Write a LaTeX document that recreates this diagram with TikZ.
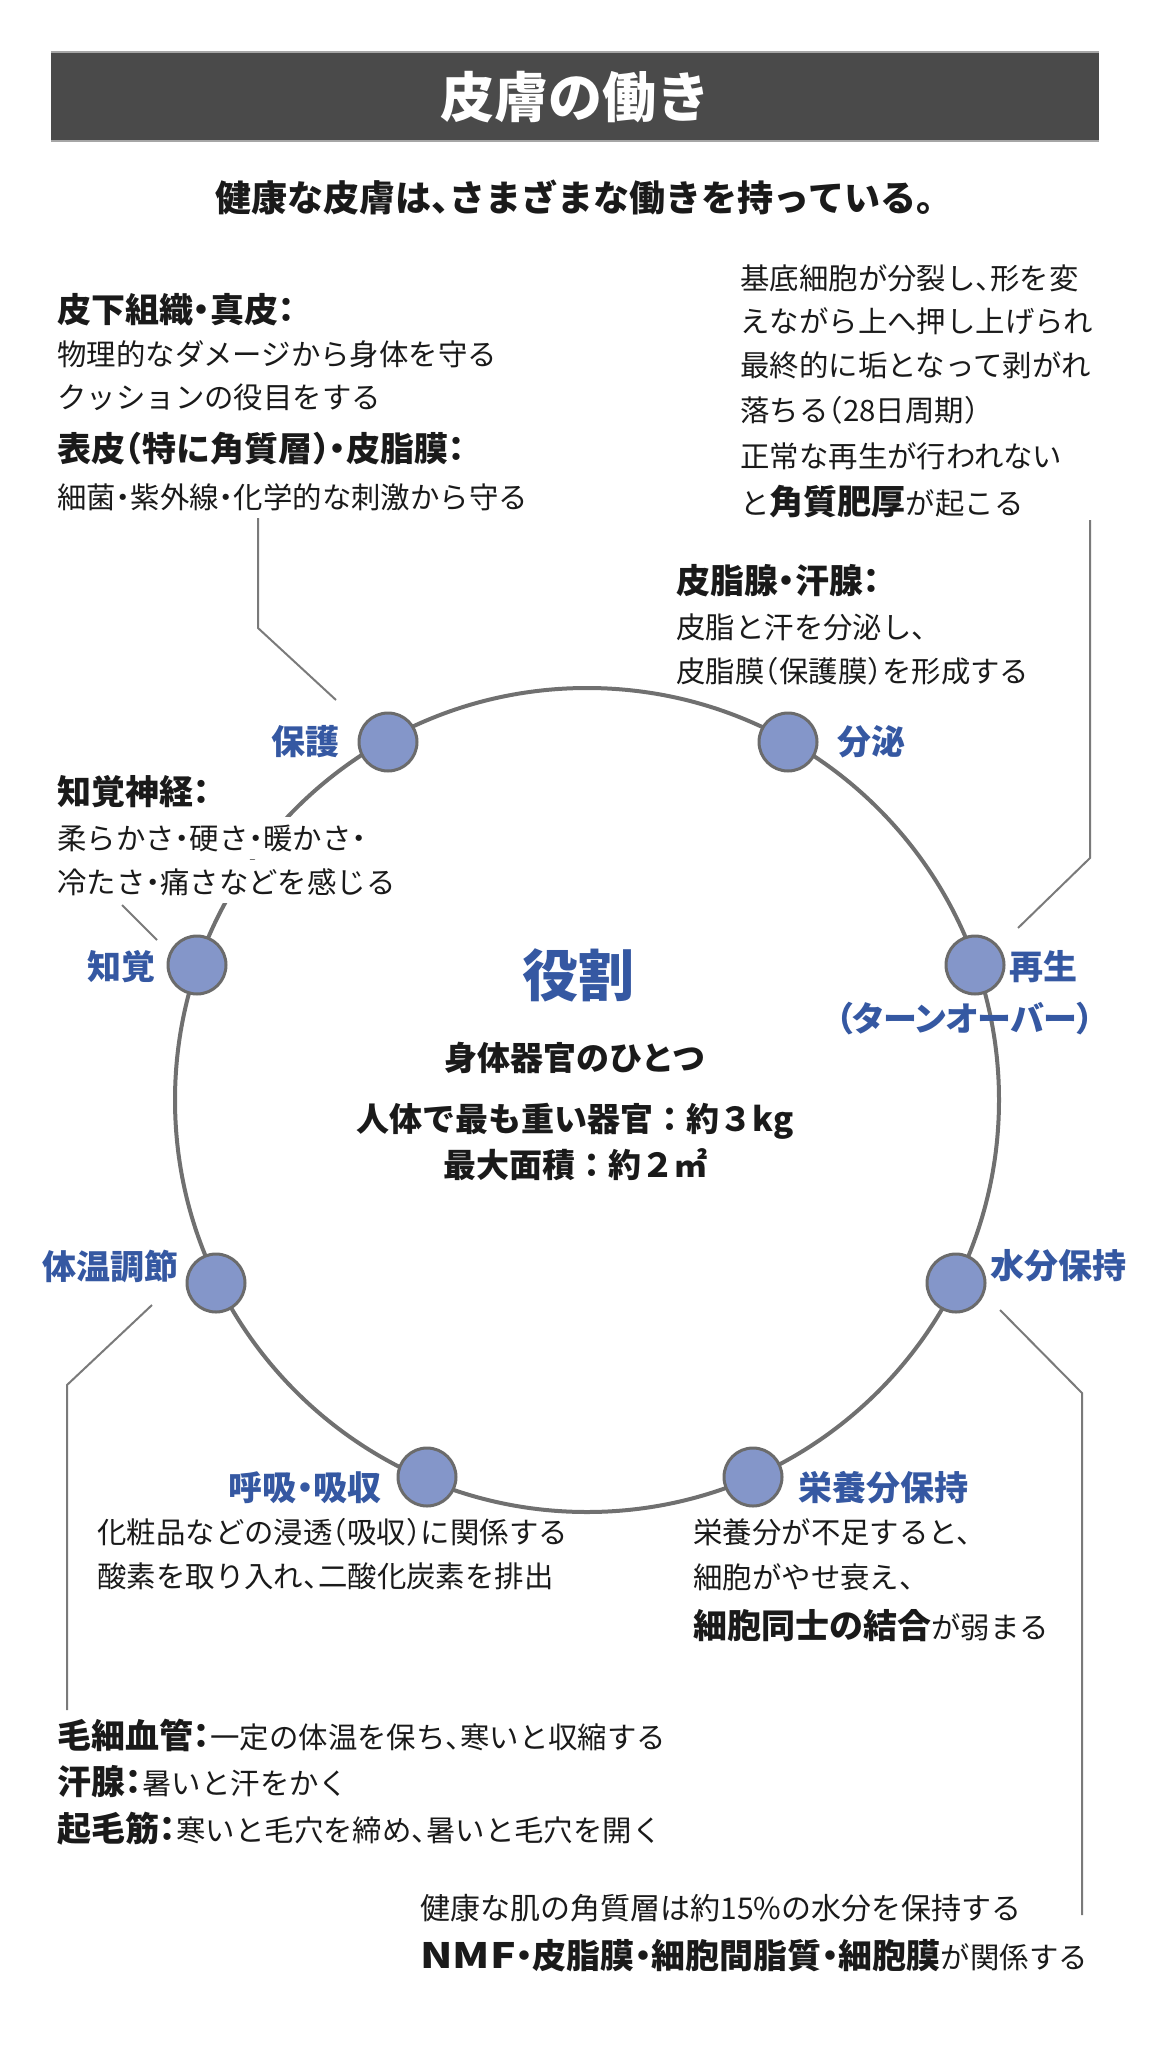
\documentclass[tikz,border=0pt]{standalone}
\usepackage{fontspec}
\usepackage{graphicx}
\setmainfont{Noto Sans CJK JP}[RawFeature={+halt}]
\newfontfamily\pfont{Noto Sans CJK JP}[RawFeature={+palt}]
\newfontfamily\ffont{Noto Sans CJK JP}
\definecolor{barc}{HTML}{4A4A4A}
\definecolor{bluec}{HTML}{3558A2}
\definecolor{dotc}{HTML}{8496C9}
\definecolor{dotb}{HTML}{6B6B6B}
\definecolor{ringc}{HTML}{707070}
\definecolor{linec}{HTML}{7A7A7A}
\definecolor{txtc}{HTML}{1A1A1A}
\newcommand\hlbold[1]{{\fontsize{17}{19}\selectfont\bfseries #1}}
\begin{document}
\begin{tikzpicture}[x=0.5pt,y=-0.5pt,
 dot/.style={circle, draw=dotb, fill=dotc, line width=1.5pt, minimum size=29pt, inner sep=0pt},
 ring/.style={draw=ringc, line width=2pt},
 conn/.style={draw=linec, line width=1pt},
 lbl/.style={text=bluec, font=\pfont\fontsize{17}{19}\selectfont\bfseries, inner sep=0pt},
 body/.style={anchor=base west, inner sep=0pt, text=txtc, font=\fontsize{14.7}{17}\selectfont},
 head/.style={anchor=base west, inner sep=0pt, text=txtc, font=\fontsize{17}{19}\selectfont\bfseries},
 mask/.style={fill=white, inner ysep=4pt, inner xsep=0pt},
 ctr/.style={text=txtc, font=\ffont\fontsize{16.5}{18}\selectfont\bfseries, inner sep=0pt, anchor=base},
]
\useasboundingbox (0,0) rectangle (1151,2048);
% title
\fill[barc] (51,52) rectangle (1099,141);
\draw[gray!70, line width=0.6pt] (51,52) -- (1099,52) (51,141) -- (1099,141);
\node[text=white, font=\fontsize{27}{30}\selectfont\bfseries, inner sep=0pt] (title) at (575,97) {皮膚の働き};
\node[text=txtc, font=\fontsize{18}{20}\selectfont\bfseries, inner sep=0pt] (sub) at (575,198) {健康な皮膚は、さまざまな働きを持っている。};

% ring
\coordinate (cen) at (587,1100);
\draw[ring] (cen) circle [radius=412];

% dots
\node[dot] (hogo) at (388,742) {};
\node[dot] (bunpi) at (788,742) {};
\node[dot] (chikaku) at (197,965) {};
\node[dot] (saisei) at (975,965) {};
\node[dot] (taion) at (216,1283) {};
\node[dot] (suibun) at (956,1283) {};
\node[dot] (kokyu) at (427,1477) {};
\node[dot] (eiyo) at (753,1477) {};

% blue labels
\node[lbl] (lhogo) at (305,742) {保護};
\node[lbl] (lbunpi) at (871,742) {分泌};
\node[lbl] (lchikaku) at (121,967) {知覚};
\node[lbl] (lsaisei) at (1043,967) {再生};
\node[lbl] (lturn) at (965,1019) {（ターンオーバー）};
\node[lbl] (ltaion) at (110,1266) {体温調節};
\node[lbl] (lsuibun) at (1058,1266) {水分保持};
\node[lbl] (lkokyu) at (305,1488) {呼吸・吸収};
\node[lbl] (leiyo) at (883,1488) {栄養分保持};

% center
\node[text=bluec, font=\fontsize{28}{30}\selectfont\bfseries, inner sep=0pt] (yakuwari) at (578,975) {役割};
\node[ctr] (c1) at (575,1070) {身体器官のひとつ};
\node[ctr] (c2) at (575,1131) {人体で最も重い器官：約３kg};
\node[ctr] (c3) at (575,1177) {最大面積：約２㎡};

% top-left block
\node[head] (tl1) at (57,323) {皮下組織・真皮：};
\node[body] (tl2) at (57,366) {物理的なダメージから身体を守る};
\node[body] (tl3) at (57,409) {クッションの役目をする};
\node[head] (tl4) at (57,462) {表皮（特に角質層）・皮脂膜：};
\node[body] (tl5) at (57,508) {細菌・紫外線・化学的な刺激から守る};

% top-right block
\node[body] (tr1) at (740,290) {基底細胞が分裂し、形を変};
\node[body] (tr2) at (740,333) {えながら上へ押し上げられ};
\node[body] (tr3) at (740,377) {最終的に垢となって剥がれ};
\node[body] (tr4) at (740,422) {落ちる（28日周期）};
\node[body] (tr5) at (740,467) {正常な再生が行われない};
\node[body] (tr6) at (740,514) {と\hlbold{角質肥厚}が起こる};

% sebaceous block
\node[head] (sb1) at (676,593) {皮脂腺・汗腺：};
\node[body] (sb2) at (676,638) {皮脂と汗を分泌し、};
\node[body] (sb3) at (676,682) {皮脂膜（保護膜）を形成する};

% sensory block
\node[head, mask] (sn1) at (57,804) {知覚神経：};
\node[body, mask] (sn2) at (57,849) {柔らかさ・硬さ・暖かさ・};
\node[body, mask] (sn3) at (57,893) {冷たさ・痛さなどを感じる};

% respiration block
\node[body] (rs1) at (97,1543) {化粧品などの浸透（吸収）に関係する};
\node[body] (rs2) at (97,1587) {酸素を取り入れ、二酸化炭素を排出};

% nutrition block
\node[body] (nt1) at (693,1543) {栄養分が不足すると、};
\node[body] (nt2) at (693,1588) {細胞がやせ衰え、};
\node[body] (nt3) at (693,1638) {\hlbold{細胞同士の結合}が弱まる};

% thermo block
\node[body] (th1) at (57,1748) {\hlbold{毛細血管：}一定の体温を保ち、寒いと収縮する};
\node[body] (th2) at (57,1794) {\hlbold{汗腺：}暑いと汗をかく};
\node[body] (th3) at (57,1841) {\hlbold{起毛筋：}寒いと毛穴を締め、暑いと毛穴を開く};

% moisture block
\node[body, font=\fontsize{15}{17}\selectfont] (ms1) at (420,1919) {健康な肌の角質層は約15\%の水分を保持する};
\node[body] (ms2) at (420,1968) {\hlbold{{\fontsize{19}{20}\selectfont\scalebox{1.12}[0.92]{NMF}}・皮脂膜・細胞間脂質・細胞膜}が関係する};

% connectors
\coordinate (h1) at (258,518); \coordinate (h2) at (258,628); \coordinate (h3) at (336,700);
\draw[conn] (h1) -- (h2) -- (h3);
\coordinate (k1) at (122,905); \coordinate (k2) at (157,940);
\draw[conn] (k1) -- (k2);
\coordinate (s1) at (1090,520); \coordinate (s2) at (1090,858); \coordinate (s3) at (1018,928);
\draw[conn] (s1) -- (s2) -- (s3);
\coordinate (t1) at (152,1305); \coordinate (t2) at (67,1385); \coordinate (t3) at (67,1710);
\draw[conn] (t1) -- (t2) -- (t3);
\coordinate (m1) at (1000,1310); \coordinate (m2) at (1082,1393); \coordinate (m3) at (1082,1915);
\draw[conn] (m1) -- (m2) -- (m3);
\end{tikzpicture}
\end{document}
